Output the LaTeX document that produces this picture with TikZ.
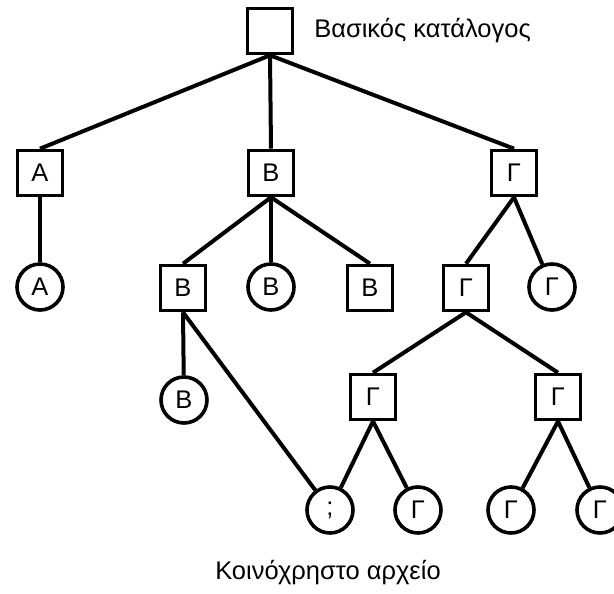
\documentclass[tikz,border=0pt]{standalone}
\usepackage{fontspec}
\setmainfont{Liberation Sans}
\begin{document}
\begin{tikzpicture}[x=1pt,y=-1pt,line width=4pt,
	every node/.style={font=\fontsize{25.5}{30}\selectfont},
	dir/.style={draw,rectangle,minimum size=45pt,inner sep=0pt,line width=3.6pt},
	file/.style={draw,circle,minimum size=46pt,inner sep=0pt,line width=3.6pt}]
		\clip (0,0) rectangle (614,594);
		\node[dir] (root) at (270,31) {};
		\node[anchor=west] (rootlabel) at (309,31) {Βασικός κατάλογος};
		\node[dir] (A) at (40,173) {Α};
		\node[dir] (B) at (271,173) {Β};
		\node[dir] (G) at (514,173) {Γ};
		\node[file] (Af) at (40,287) {Α};
		\node[dir] (B1) at (183,288) {Β};
		\node[file] (Bf) at (271,287) {Β};
		\node[dir] (B2) at (370,288) {Β};
		\node[dir] (G1) at (466,288) {Γ};
		\node[file] (Gf) at (552,287) {Γ};
		\node[file] (B1f) at (184,400) {Β};
		\node[dir] (G2) at (373,397) {Γ};
		\node[dir] (G3) at (558,397) {Γ};
		\node[file] (Q) at (330,510) {;};
		\node[file] (G2f) at (418,510) {Γ};
		\node[file] (G3f) at (511,510) {Γ};
		\node[file] (G4f) at (600,510) {Γ};
		\node (shared) at (328,573) {Κοινόχρηστο αρχείο};
		\draw (root.south) -- (A.north);
		\draw (root.south) -- (B.north);
		\draw (root.south) -- (G.north);
		\draw (A.south) -- (Af);
		\draw (B.south) -- (B1.north);
		\draw (B.south) -- (Bf);
		\draw (B.south) -- (B2.north);
		\draw (G.south) -- (G1.north);
		\draw (G.south) -- (Gf);
		\draw (B1.south) -- (B1f);
		\draw (B1.south) -- (Q);
		\draw (G1.south) -- (G2.north);
		\draw (G1.south) -- (G3.north);
		\draw (G2.south) -- (Q);
		\draw (G2.south) -- (G2f);
		\draw (G3.south) -- (G3f);
		\draw (G3.south) -- (G4f);
	\end{tikzpicture}
\end{document}
